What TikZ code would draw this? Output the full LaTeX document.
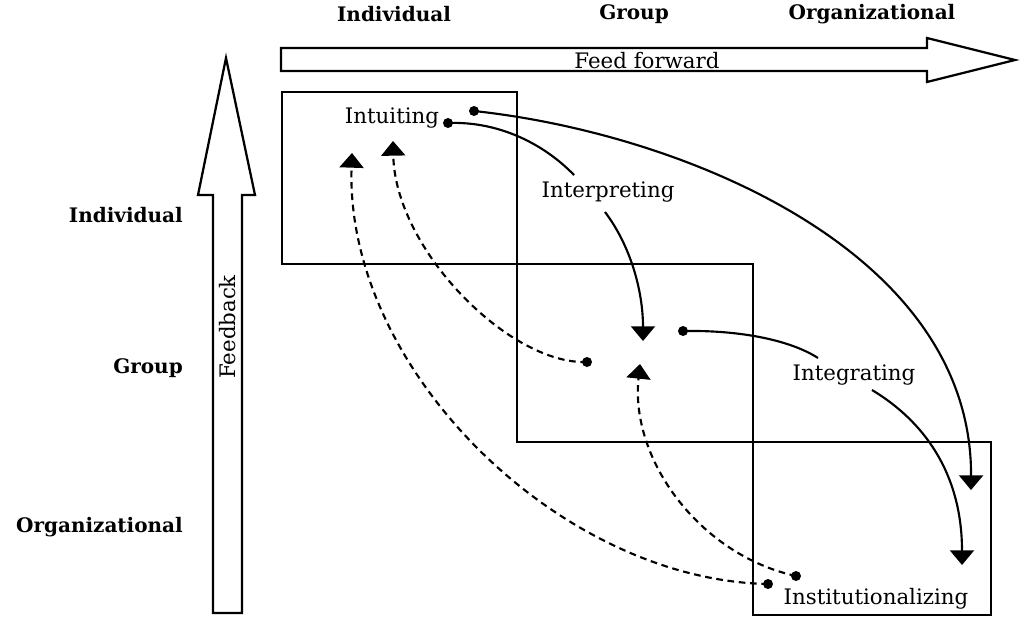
\documentclass[tikz,border=0pt]{standalone}
\usepackage{fontspec}
\setmainfont{DejaVu Serif}
\usetikzlibrary{arrows.meta}
\tikzset{
  lbl/.style={font=\fontsize{16}{18}\selectfont, inner sep=0pt},
  axl/.style={font=\bfseries\fontsize{15}{17}\selectfont, inner sep=0pt},
  bigarrow/.style={draw, line width=1.7pt, fill=white, line join=miter},
  box/.style={draw, line width=1.7pt},
  dotn/.style={circle, fill, inner sep=0pt, minimum size=7.5pt},
  flow/.style={line width=1.6pt, -{Triangle[width=18pt,length=11pt]}},
  plain/.style={line width=1.6pt},
  back/.style={line width=1.6pt, dash pattern=on 5pt off 3.5pt, -{Triangle[width=18pt,length=11pt]}},
}
\begin{document}
\begin{tikzpicture}[x=0.75pt,y=-0.75pt]
\useasboundingbox (0,0) rectangle (1025,636);
% axis labels
\node[axl] (tind) at (394,14) {Individual};
\node[axl] (tgrp) at (634,14) {Group};
\node[axl] (torg) at (872,14) {Organizational};
\node[axl, anchor=east] (lind) at (183,215) {Individual};
\node[axl, anchor=east] (lgrp) at (183,368) {Group};
\node[axl, anchor=east] (lorg) at (183,527) {Organizational};
% feed forward arrow
\draw[bigarrow] (281,48) -- (927,48) -- (927,38) -- (1015,60) -- (927,82) -- (927,71) -- (281,71) -- cycle;
\node[lbl] (ff) at (647,61) {Feed forward};
% feedback arrow
\draw[bigarrow] (213,613) -- (213,195) -- (198,195) -- (226,58) -- (255,195) -- (242,195) -- (242,613) -- cycle;
\node[lbl, rotate=90] (fb) at (228,327) {Feedback};
% boxes
\draw[box] (282,92) rectangle (517,264);
\draw[box] (517,264) rectangle (753,442);
\draw[box] (753,442) rectangle (991,615);
% process labels
\node[lbl] (intu) at (392,118) {Intuiting};
\node[lbl] (intp) at (608,192) {Interpreting};
\node[lbl] (intg) at (854,375) {Integrating};
\node[lbl] (inst) at (876,599) {Institutionalizing};
% dots
\node[dotn] (d1) at (474,111) {};
\node[dotn] (d2) at (448,123) {};
\node[dotn] (d3) at (683,331) {};
\node[dotn] (d4) at (587,362) {};
\node[dotn] (d5) at (768,584) {};
\node[dotn] (d6) at (796,576) {};
% tips
\coordinate (t1) at (971,490);
\coordinate (t2) at (643,341);
\coordinate (t3) at (962,565);
\coordinate (t4) at (393,141);
\coordinate (t5) at (352,153);
\coordinate (t6) at (640,364);
\coordinate (p1) at (574,175);
\coordinate (p2) at (605,212);
\coordinate (g1) at (818,358);
\coordinate (g2) at (872,390);
% feed-forward connectors
\draw[flow] (d1.center) .. controls (680,133) and (972,250) .. (t1);
\draw[plain] (d2.center) .. controls (500,121) and (545,145) .. (p1);
\draw[flow] (p2) .. controls (630,245) and (643,290) .. (t2);
\draw[plain] (d3.center) .. controls (740,330) and (790,340) .. (g1);
\draw[flow] (g2) .. controls (930,425) and (962,480) .. (t3);
% feedback connectors
\draw[back] (d4.center) .. controls (510,365) and (395,250) .. (t4);
\draw[back] (d5.center) .. controls (560,580) and (345,370) .. (t5);
\draw[back] (d6.center) .. controls (700,555) and (630,460) .. (t6);
\end{tikzpicture}
\end{document}
